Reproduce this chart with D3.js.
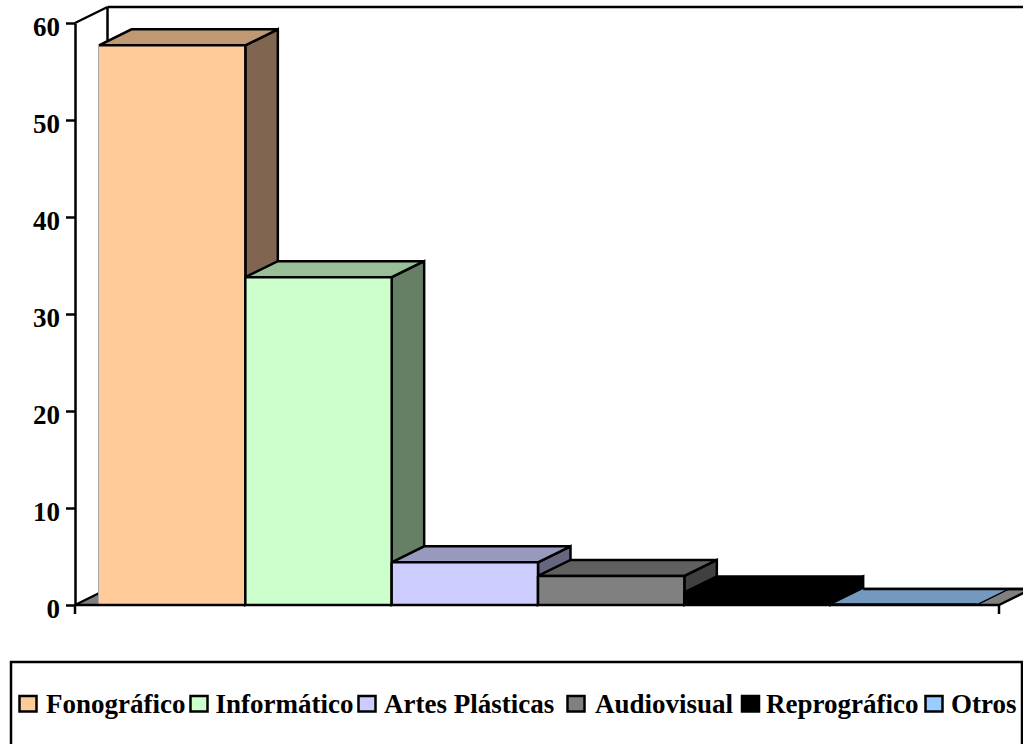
<!DOCTYPE html>
<html><head><meta charset="utf-8">
<script src="https://cdn.jsdelivr.net/npm/d3@7"></script>
<style>html,body{margin:0;padding:0;background:#fff;overflow:hidden}svg{display:block}text{font-family:"Liberation Serif",serif;font-weight:bold;fill:#000}</style>
</head><body><svg id="c" width="1023" height="744"></svg>
<script>
const categories=["Fonográfico","Informático","Artes Plásticas","Audiovisual","Reprográfico","Otros"];
const values=[57.7,33.8,4.4,3,1.3,0.05];
const frontColors=["#FFCC99","#CCFFCC","#CCCCFF","#808080","#000000","#99CCFF"];
const topColors=["#BF9973","#99BF99","#9999BF","#606060","#000000","#7399BF"];
const sideColors=["#806650","#668066","#666680","#404040","#000000","#4D6680"];
const yTicks=[0,10,20,30,40,50,60];
const legendX=[19.5,190.5,358.5,567.5,742,925.5];
const legendTextX=[46,215.5,384,595,766,951];

const svg=d3.select("#c");
const W=1023;
const y=d3.scaleLinear().domain([0,60]).range([605,23]);
const x=d3.scaleBand().domain(categories).range([99,977]);
const dx=32.5,dy=16;
const axisL=75,axisR=999;
const K="#000",SW=2.5;
const poly=(pts,fill,sw=SW)=>svg.append("polygon").attr("points",pts.map(p=>p.join(",")).join(" ")).attr("fill",fill).attr("stroke",K).attr("stroke-width",sw).attr("stroke-linejoin","miter");
const line=(a,b,c=K,sw=SW)=>svg.append("line").attr("x1",a[0]).attr("y1",a[1]).attr("x2",b[0]).attr("y2",b[1]).attr("stroke",c).attr("stroke-width",sw);

// floor
svg.append("polygon").attr("points",[[axisL,605],[axisL+dx,605-dy],[axisR+dx,605-dy],[axisR,605]].map(p=>p.join(",")).join(" ")).attr("fill","#808080");
// back wall edges
line([axisL+dx,y(60)-dy],[W+2,y(60)-dy]);
line([axisL+dx,y(60)-dy],[axisL+dx,605-dy]);
line([axisL+dx,605-dy],[W+2,605-dy]);
line([axisL,y(60)],[axisL+dx,y(60)-dy]);
line([axisL,605],[axisL+dx,605-dy]);
line([axisR,605],[axisR+dx,605-dy]);

// bars, left to right
categories.forEach((c,i)=>{
  const x0=x(c),x1=x0+x.bandwidth(),t=y(values[i]),b=y(0);
  const last=i===categories.length-1;
  poly([[x1,b],[x1+dx,b-dy],[x1+dx,t-dy],[x1,t]],sideColors[i],last?1:SW);
  poly([[x0,t],[x0+dx,t-dy],[x1+dx,t-dy],[x1,t]],topColors[i],last?1:SW);
  svg.append("rect").attr("x",x0).attr("y",t).attr("width",x1-x0).attr("height",b-t).attr("fill",frontColors[i]);
  line([x0,t],[x1,t]);line([x1,t],[x1,b]);
  if(i>0)line([x0,t],[x0,b]);else line([x0-0.5,t],[x0-0.5,b],"#a8a8a8",1);
});
// upper edge of the flat last bar
line([x("Otros")+dx,605-dy],[W+2,605-dy]);

// axes
const gy=svg.append("g").attr("transform",`translate(${axisL},0)`)
  .call(d3.axisLeft(y).tickValues(yTicks).tickSize(9).tickPadding(6).tickSizeOuter(0));
gy.select(".domain").attr("stroke",K).attr("stroke-width",SW);
gy.selectAll(".tick line").attr("stroke",K).attr("stroke-width",SW);
gy.selectAll("text").attr("font-size",27).attr("dy","0.47em").style("font-family",'"Liberation Serif",serif').style("font-weight","bold").attr("fill",K);
line([axisL,605],[axisR,605]);
line([axisL,605],[axisL,614]);
line([axisR,605],[axisR,614]);

// legend
svg.append("rect").attr("x",11).attr("y",662).attr("width",1011).attr("height",100).attr("fill","none").attr("stroke",K).attr("stroke-width",SW);
categories.forEach((c,i)=>{
  svg.append("rect").attr("x",legendX[i]).attr("y",696).attr("width",17).attr("height",15.5).attr("fill",frontColors[i]).attr("stroke",K).attr("stroke-width",SW);
  svg.append("text").attr("x",legendTextX[i]).attr("y",713).attr("font-size",27).text(c);
});
</script></body></html>
